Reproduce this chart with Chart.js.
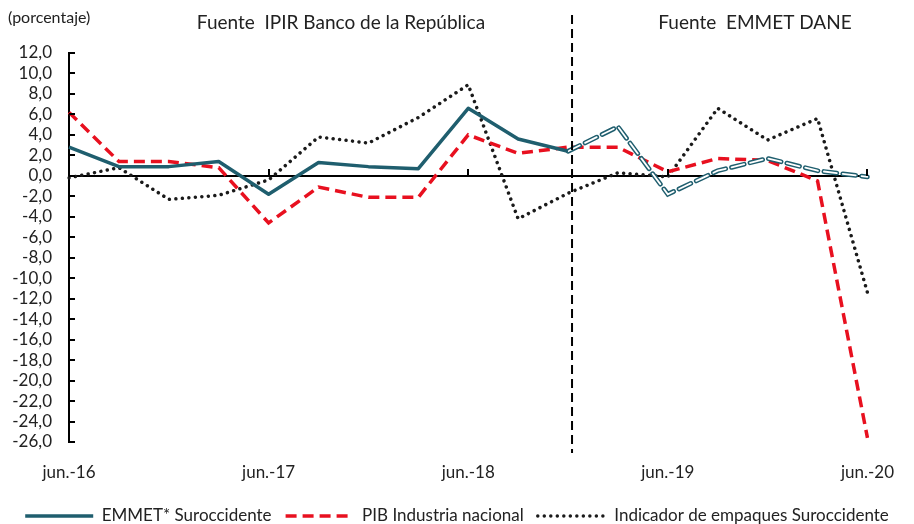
<!DOCTYPE html>
<html>
<head>
<meta charset="utf-8">
<script src="https://cdn.jsdelivr.net/npm/chart.js@4.4.1/dist/chart.umd.min.js"></script>
<style>
  body { margin: 0; background: #fff; }
  #wrap { width: 914px; height: 524px; }
</style>
</head>
<body>
<div id="wrap"><canvas id="empaquesChart"></canvas></div>
<script>
// trimestres jun.-16 ... jun.-20
const categories = ['jun.-16', 'sep.-16', 'dic.-16', 'mar.-17', 'jun.-17', 'sep.-17', 'dic.-17', 'mar.-18',
  'jun.-18', 'sep.-18', 'dic.-18', 'mar.-19', 'jun.-19', 'sep.-19', 'dic.-19', 'mar.-20', 'jun.-20'];
const emmetIpir = [2.8, 0.9, 0.9, 1.4, -1.8, 1.3, 0.9, 0.7, 6.6, 3.6, 2.4];      // fuente IPIR, desde jun.-16
const emmetDane = [2.4, 4.8, -1.8, 0.5, 1.7, 0.5, -0.1];                          // fuente EMMET DANE, desde dic.-18
const pibIndustria = [6.2, 1.4, 1.4, 0.8, -4.6, -1.1, -2.1, -2.1, 4.0, 2.2, 2.8, 2.8, 0.4, 1.7, 1.5, -0.5, -25.6];
const empaques = [-0.2, 0.8, -2.3, -1.9, -0.4, 3.8, 3.2, 5.7, 8.9, -4.2, -1.7, 0.3, -0.1, 6.6, 3.5, 5.6, -11.4];
const yTicks = [12, 10, 8, 6, 4, 2, 0, -2, -4, -6, -8, -10, -12, -14, -16, -18, -20, -22, -24, -26];
const sourceTitles = ['Fuente  IPIR Banco de la República', 'Fuente  EMMET DANE'];
const unitLabel = '(porcentaje)';
const splitIndex = 10; // dic.-18

const FONT = 'Lato, "Open Sans", sans-serif';
const TEAL = '#1f5e6e';
const RED = '#e8101f';
const DOT = '#1a1a1a';

const danePadded = categories.map((c, i) => i < splitIndex ? null : emmetDane[i - splitIndex]);

// marcas hacia adentro, linea divisoria y textos de fuente
const decoPlugin = {
  id: 'deco',
  afterDraw(chart) {
    const ctx = chart.ctx;
    const x = chart.scales.x, y = chart.scales.y;
    const area = chart.chartArea;
    ctx.save();
    ctx.strokeStyle = '#000';
    ctx.lineWidth = 2;
    ctx.beginPath();
    yTicks.forEach(v => {
      const py = Math.round(y.getPixelForValue(v));
      ctx.moveTo(area.left, py);
      ctx.lineTo(area.left + 6, py);
    });
    const y0 = Math.round(y.getPixelForValue(0));
    categories.forEach((c, i) => {
      if (i > 0 && i % 4 === 0) {
        const px = Math.round(x.getPixelForValue(i));
        ctx.moveTo(px, y0);
        ctx.lineTo(px, y0 - 7);
      }
    });
    ctx.stroke();

    // divisor entre fuentes
    const dx = x.getPixelForValue(splitIndex) + 4;
    ctx.setLineDash([9, 5]);
    ctx.beginPath();
    ctx.moveTo(dx, 15);
    ctx.lineTo(dx, area.bottom + 11);
    ctx.stroke();
    ctx.setLineDash([]);

    ctx.fillStyle = '#222';
    ctx.textBaseline = 'middle';
    ctx.font = '16px ' + FONT;
    ctx.textAlign = 'left';
    ctx.fillText(unitLabel, 8, 18);
    ctx.font = '19px ' + FONT;
    ctx.textAlign = 'center';
    ctx.fillText(sourceTitles[0], 341, 23);
    ctx.fillText(sourceTitles[1], 755, 23);
    ctx.restore();
  }
};

new Chart(document.getElementById('empaquesChart'), {
  type: 'line',
  data: {
    labels: categories,
    datasets: [{
      label: 'EMMET* Suroccidente',
      data: emmetIpir,
      borderColor: TEAL,
      borderWidth: 3.5,
      borderJoinStyle: 'round',
      pointRadius: 0,
      tension: 0
    }, {
      label: 'dane-inner',
      data: danePadded,
      borderColor: '#ffffff',
      borderWidth: 1.8,
      borderDash: [13, 6],
      borderCapStyle: 'round',
      pointRadius: 0,
      tension: 0
    }, {
      label: 'dane-outer',
      data: danePadded,
      borderColor: TEAL,
      borderWidth: 4.8,
      borderDash: [13, 6],
      borderCapStyle: 'round',
      pointRadius: 0,
      tension: 0
    }, {
      label: 'PIB Industria nacional',
      data: pibIndustria,
      borderColor: RED,
      borderWidth: 3.5,
      borderDash: [11, 6],
      pointRadius: 0,
      tension: 0
    }, {
      label: 'Indicador de empaques Suroccidente',
      data: empaques,
      borderColor: DOT,
      borderWidth: 3.5,
      borderDash: [0.01, 6.5],
      borderCapStyle: 'round',
      pointRadius: 0,
      tension: 0
    }]
  },
  options: {
    responsive: true,
    maintainAspectRatio: false,
    animation: false,
    layout: {
      padding: { top: 53, right: 0, left: 0, bottom: -10.5 }
    },
    scales: {
      x: {
        border: { display: false },
        grid: { display: false, drawTicks: false },
        ticks: {
          autoSkip: false,
          maxRotation: 0,
          padding: 20,
          color: '#222',
          font: { family: FONT, size: 17 },
          callback: function(val, i) { return i % 4 === 0 ? categories[i] : ''; }
        },
        afterFit(scale) { scale.height = 51.5; }
      },
      y: {
        min: -26,
        max: 12,
        border: { display: true, color: '#000', width: 2 },
        grid: {
          drawTicks: false,
          lineWidth: 2,
          color: ctx => ctx.tick && ctx.tick.value === 0 ? '#000' : 'rgba(0,0,0,0)'
        },
        ticks: {
          stepSize: 2,
          autoSkip: false,
          padding: 17,
          color: '#222',
          font: { family: FONT, size: 17 },
          callback: v => v.toFixed(1).replace('.', ',')
        },
        afterFit(scale) { scale.width = 69; }
      },
      // margen derecho vacio, deja ancho completo a la leyenda
      yRight: {
        position: 'right',
        border: { display: false },
        grid: { display: false, drawTicks: false },
        ticks: { display: false },
        afterFit(scale) { scale.width = 46; }
      }
    },
    plugins: {
      legend: {
        display: true,
        position: 'bottom',
        labels: {
          usePointStyle: true,
          pointStyle: 'line',
          pointStyleWidth: 68,
          padding: 14,
          color: '#222',
          font: { family: FONT, size: 17 },
          filter: item => item.text.indexOf('dane-') !== 0,
          generateLabels(chart) {
            const items = Chart.defaults.plugins.legend.labels.generateLabels(chart);
            return items.map(item => {
              const ds = chart.data.datasets[item.datasetIndex];
              item.lineDash = ds.borderDash || [];
              item.lineCap = ds.borderCapStyle || 'butt';
              item.lineWidth = ds.borderWidth;
              item.strokeStyle = ds.borderColor;
              item.pointStyle = 'line';
              return item;
            });
          }
        }
      },
      tooltip: { enabled: false }
    }
  },
  plugins: [decoPlugin]
});
</script>
</body>
</html>
